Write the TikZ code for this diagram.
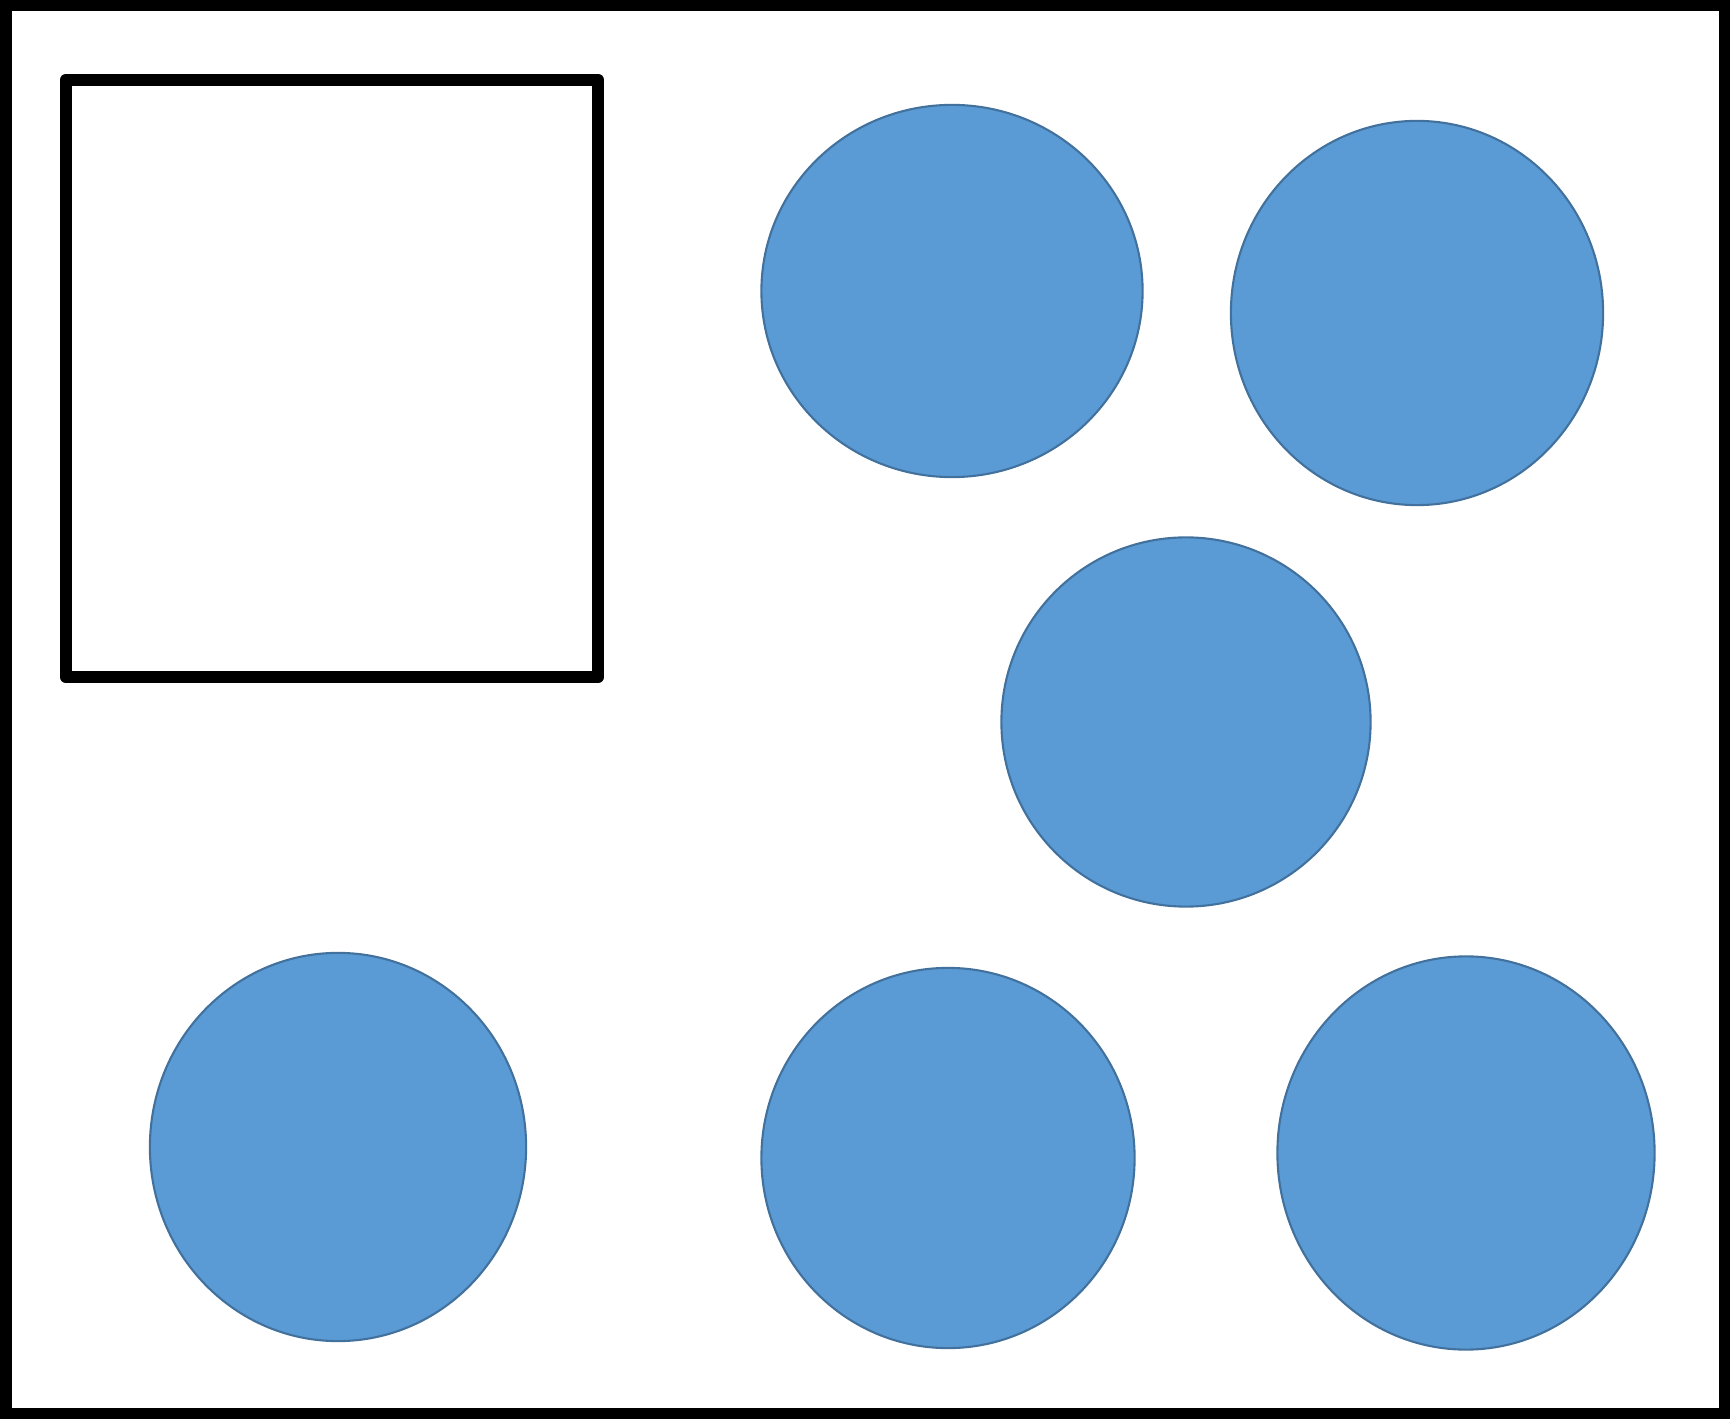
\documentclass[tikz,border=0pt]{standalone}
\usepackage{xcolor}
\usepackage{tikz}
\usetikzlibrary{shapes.geometric}
\definecolor{dotblue}{RGB}{91,155,213}
\definecolor{dotedge}{RGB}{65,113,156}

\begin{document}
\begin{tikzpicture}[
    x=0.01cm, y=-0.01cm,
    dot/.style={ellipse, draw=dotedge, fill=dotblue, line width=0.6pt, inner sep=0pt, outer sep=0pt},
    emptybox/.style={draw=black, line width=0.12cm, line join=round, inner sep=0pt, outer sep=0pt, minimum width=5.32cm, minimum height=5.97cm}
]
\useasboundingbox (0,0) rectangle (1730,1419);
\draw[line width=0.115cm] (5.75,5.75) rectangle (1724.5,1413.5);

\node[emptybox] (box) at (332,378.5) {};

% blue dots
\node[dot, minimum width=3.81cm, minimum height=3.72cm] (topmid) at (952,291) {};
\node[dot, minimum width=3.72cm, minimum height=3.84cm] (topright) at (1417,313) {};
\node[dot, minimum width=3.69cm, minimum height=3.69cm] (center) at (1186,722) {};
\node[dot, minimum width=3.76cm, minimum height=3.88cm] (botleft) at (338,1147) {};
\node[dot, minimum width=3.73cm, minimum height=3.80cm] (botmid) at (948,1158) {};
\node[dot, minimum width=3.77cm, minimum height=3.93cm] (botright) at (1466,1153) {};
\end{tikzpicture}
\end{document}
